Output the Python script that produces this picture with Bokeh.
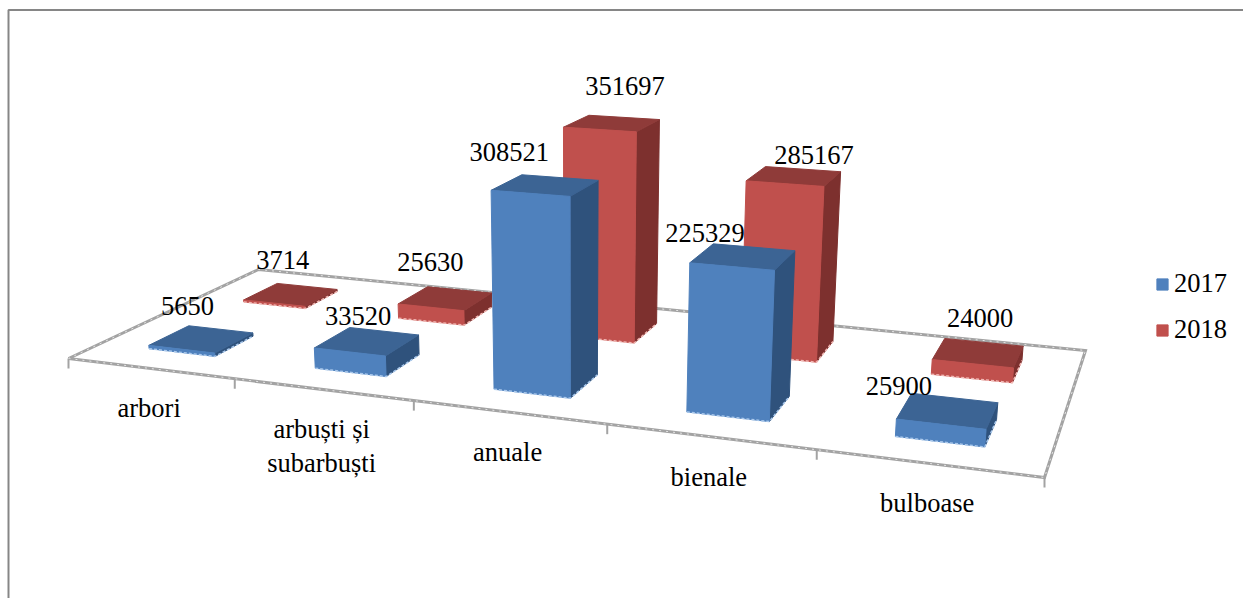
import numpy as np
from bokeh.embed import file_html
from bokeh.resources import INLINE
from bokeh.plotting import figure
from bokeh.models import Range1d, Legend, LegendItem
from bokeh.core.properties import value

categories = ["arbori", "arbuști și\nsubarbuști", "anuale", "bienale", "bulboase"]
series_names = ["2017", "2018"]
values_2017 = [5650, 33520, 308521, 225329, 25900]
values_2018 = [3714, 25630, 351697, 285167, 24000]

# label offsets from the bar's top centre (styling only)
label_dx_2017 = [-14, -9, -36, -38, -49]
label_dy_2017 = [-33, -25, -33, -24, -25]
label_dx_2018 = [-8, -15, 13, 20, 2]
label_dy_2018 = [-35, -36, -37, -21, -35]

FONT = "Liberation Serif"
FS = "26.5px"
GRAY = "#A3A3A3"
W, H = 1243, 598

# --- perspective camera: unit floor (u along categories, v in depth) to page pixels
floor = [(0, 0, 68, 358), (1, 0, 1044, 477), (1, 1, 1085, 350), (0, 1, 258, 269)]
A, b = [], []
for u, v, x, y in floor:
    A.append([u, v, 1, 0, 0, 0, -u * x, -v * x]); b.append(x)
    A.append([0, 0, 0, u, v, 1, -u * y, -v * y]); b.append(y)
hm = np.append(np.linalg.solve(np.array(A, float), np.array(b, float)), 1).reshape(3, 3)
VANISH = np.array([576.0, 6000.0, 1.0])
C = -1.05e-7


def proj(u, v, z=0.0):
    q = hm @ np.array([u, v, 1.0]) + z * C * VANISH
    return q[0] / q[2], q[1] / q[2]


def poly(points):
    xy = [proj(*pt) for pt in points]
    return [a for a, _ in xy], [c for _, c in xy]


n = len(categories)
BAR_LO, BAR_HI = 0.3, 0.705
DEPTH = {0: (0.15, 0.35), 1: (0.65, 0.85)}

p = figure(width=W, height=H, output_backend="svg", toolbar_location=None,
           x_range=Range1d(0, W), y_range=Range1d(H, 0), min_border=0)
p.axis.visible = False
p.grid.visible = False
p.outline_line_color = None
p.background_fill_color = "white"

# chart frame
p.line([8, 8, W], [H, 9.5, 9.5], line_color="#868686", line_width=2)

# floor and ticks
fx, fy = poly([(0, 0), (1, 0), (1, 1), (0, 1), (0, 0)])
p.line(fx, fy, line_color=GRAY, line_width=3, line_join="miter")
p.line(fx, fy, line_color="#E4E4E4", line_width=1, line_dash="2 5")
tx, ty = [], []
for k in range(n + 1):
    x0, y0 = proj(k / n, 0)
    tx.append([x0, x0]); ty.append([y0, y0 + 10])
p.multi_line(tx, ty, line_color=GRAY, line_width=2)

colors = {
    0: dict(front="#4F81BD", top="#3C6494", side="#2F527C", edge="#A9C8EC"),
    1: dict(front="#C0504D", top="#8F3B39", side="#7D302E", edge="#F2B6B2"),
}
front_renderers = {}
# red row stands behind the blue one: draw it first
for s, vals in [(1, values_2018), (0, values_2017)]:
    v0, v1 = DEPTH[s]
    fr, si, to, ed = ([], []), ([], []), ([], []), ([], [])
    for i, val in enumerate(vals):
        u0, u1 = (i + BAR_LO) / n, (i + BAR_HI) / n
        for store, pts in (
            (fr, [(u0, v0), (u1, v0), (u1, v0, val), (u0, v0, val)]),
            (si, [(u1, v0), (u1, v1), (u1, v1, val), (u1, v0, val)]),
            (to, [(u0, v0, val), (u1, v0, val), (u1, v1, val), (u0, v1, val)]),
            (ed, [(u0, v0), (u1, v0), (u1, v1)]),
        ):
            a, c = poly(pts)
            store[0].append(a); store[1].append(c)
    col = colors[s]
    p.patches(si[0], si[1], fill_color=col["side"], line_color=col["side"], line_width=1)
    p.patches(to[0], to[1], fill_color=col["top"], line_color=col["top"], line_width=1)
    front_renderers[s] = p.patches(fr[0], fr[1], fill_color=col["front"], line_color=col["front"], line_width=1)
    p.multi_line(ed[0], ed[1], line_color=col["edge"], line_width=1.5, line_dash="3 2")

# data labels
lx, ly, lt = [], [], []
for s, vals, dxs, dys in [(0, values_2017, label_dx_2017, label_dy_2017),
                          (1, values_2018, label_dx_2018, label_dy_2018)]:
    v0, v1 = DEPTH[s]
    for i, val in enumerate(vals):
        um, vm = (i + (BAR_LO + BAR_HI) / 2) / n, (v0 + v1) / 2
        x, y = proj(um, vm, val)
        lx.append(x + dxs[i]); ly.append(y + dys[i]); lt.append(str(val))
p.text(lx, ly, text=lt, text_font=value(FONT), text_font_size=FS, text_color="black",
       text_align="center", text_baseline="middle")

# category labels
cx, cy = [], []
for i in range(n):
    x, y = proj((i + 0.5) / n, 0)
    cx.append(x - 1); cy.append(y + 25)
p.text(cx, cy, text=categories, text_font=value(FONT), text_font_size=FS, text_color="black",
       text_align="center", text_baseline="top", text_line_height=1.12)

legend = Legend(
    items=[LegendItem(label=series_names[0], renderers=[front_renderers[0]]),
           LegendItem(label=series_names[1], renderers=[front_renderers[1]])],
    location=(1155, 253), orientation="vertical", glyph_width=14, glyph_height=14,
    label_text_font=FONT, label_text_font_size=FS, label_text_color="black",
    label_standoff=5, spacing=15, margin=0, padding=0,
    background_fill_alpha=0, border_line_color=None)
p.add_layout(legend, "center")

open("out.html", "w").write(file_html(p, INLINE))
